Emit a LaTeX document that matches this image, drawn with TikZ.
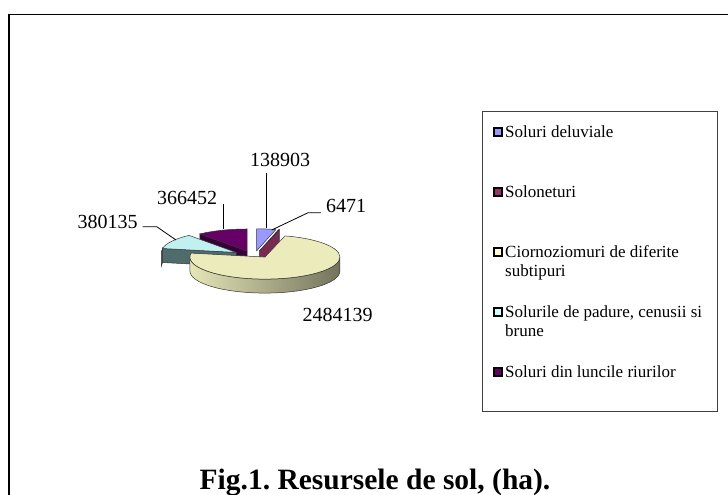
\documentclass[tikz,border=0pt]{standalone}
\usepackage{fontspec}
\setmainfont{Liberation Serif}
\usepackage{tikz}
\tikzset{>=latex}
\frenchspacing
\definecolor{myblue}{HTML}{9999FF}
\definecolor{myred}{HTML}{993366}
\definecolor{mycream}{HTML}{FFFFCC}
\definecolor{mycyan}{HTML}{CCFFFF}
\definecolor{mypurple}{HTML}{660066}
\definecolor{myslate}{HTML}{4F6B6B}
\colorlet{mydarkred}{myred!80!black}
\colorlet{mydarkpurple}{mypurple!55!black}
\colorlet{mycreamtop}{mycream!92!black}
\colorlet{mycyantop}{mycyan!94!black}
\tikzstyle{pieedge}=[draw=black!80,line width=0.5]
\tikzstyle{leader}=[line width=0.8]
\tikzstyle{legmark}=[draw=black,line width=1.5]
\tikzstyle{legtext}=[anchor=base west,inner sep=0,font=\fontsize{17}{19.5}\selectfont]
\tikzstyle{numlabel}=[anchor=base,inner sep=0,font=\fontsize{20}{24}\selectfont]
\def\topface#1#2#3#4{\filldraw[pieedge,fill=#4] (#1) -- ++({\rx*cos(#2)},{\ry*sin(#2)})
  arc[start angle=#2,end angle=#3,x radius=\rx,y radius=\ry] -- cycle}
\def\cutface#1#2#3{\filldraw[pieedge,fill=#3] (#1) -- ++({\rx*cos(#2)},{\ry*sin(#2)}) -- ++(0,-\pieh)
  -- ++({-\rx*cos(#2)},{-\ry*sin(#2)}) -- cycle}
\def\sidewall#1#2#3#4{\draw[pieedge,#4] (#1) ++({\rx*cos(#2)},{\ry*sin(#2)})
  arc[start angle=#2,end angle=#3,x radius=\rx,y radius=\ry] -- ++(0,-\pieh)
  arc[start angle=#3,end angle=#2,x radius=\rx,y radius=\ry] -- cycle}
\def\legitem#1#2#3#4{\node[legtext] (#1) at #2 {#4};
  \filldraw[fill=#3,legmark] ([xshift=-11,yshift=1.5]#1.base west) rectangle ++(8,8)}

\begin{document}
\begin{tikzpicture}[x=1pt,y=1pt]
                \useasboundingbox (0,0) rectangle (728,495);
                \def\rx{75}
                \def\ry{22}
                \def\pieh{14}
                \def\ex{20.6}
                \def\ey{3.4}
                % frame
                \draw[line width=1.6] (9,-2) -- (9,480.5) -- (730,480.5);
                % exploded slices
                \coordinate (O) at (254,240.8);
                \path (O) ++({\ex*cos(82.6)},{\ey*sin(82.6)}) coordinate (cB);
                \path (O) ++({\ex*cos(74.85)},{\ey*sin(74.85)}) coordinate (cM);
                \path (O) ++({\ex*cos(-57.95)},{\ey*sin(-57.95)}) coordinate (cY);
                \path (O) ++({\ex*cos(149.35)},{\ey*sin(149.35)}) coordinate (cC);
                \path (O) ++({\ex*cos(109.54)},{\ey*sin(109.54)}) coordinate (cP);
                \cutface{cP}{129.08}{mydarkpurple};
                \topface{cP}{90}{129.08}{mypurple};
                \cutface{cC}{169.61}{myslate};
                \sidewall{cC}{169.61}{180}{fill=myslate};
                \topface{cC}{129.08}{169.61}{mycyantop};
                \topface{cB}{75.19}{90}{myblue};
                \cutface{cM}{74.50}{mydarkred};
                \topface{cM}{74.50}{75.19}{myred};
                \sidewall{cY}{180}{360}{left color=mycream!90!black,right color=mycream!45!black};
                \topface{cY}{169.61}{434.50}{mycreamtop};
                % values
                \coordinate (t1) at (266.7,267);
                \coordinate (t2) at (271.7,265);
                \coordinate (t3) at (223.5,265.5);
                \coordinate (t4) at (176,255);
                \node[numlabel] (l138903) at (280,328) {138903};
                \node[numlabel] (l6471) at (346,282) {6471};
                \node[numlabel] (l366452) at (187,290) {366452};
                \node[numlabel] (l380135) at (107.5,266.7) {380135};
                \node[numlabel] (l2484139) at (337.5,173.3) {2484139};
                \draw[leader] (t1 |- l138903.base) ++(0,-5.7) -- (t1);
                \draw[leader] (l6471.base west) ++(-5,0.3) -- ++(-12.7,0) -- (t2);
                \draw[leader] (t3 |- l366452.base) ++(0,1) -- (t3);
                \draw[leader] (l380135.base east) ++(5,1.6) -- ++(14,0) -- (t4);
                % legend
                \draw[line width=0.8,black!75] (482,84) rectangle (717,384);
                \legitem{leg1}{(505,357.5)}{myblue}{Soluri deluviale};
                \legitem{leg2}{(505,297.5)}{myred}{Soloneturi};
                \legitem{leg3}{(505,237.5)}{mycream}{\begin{tabular}[t]{@{}l@{}}Ciornoziomuri de diferite\\subtipuri\end{tabular}};
                \legitem{leg4}{(505,177.5)}{mycyan}{\begin{tabular}[t]{@{}l@{}}Solurile de padure, cenusii si\\brune\end{tabular}};
                \legitem{leg5}{(505,117.5)}{mypurple}{Soluri din luncile riurilor};
                \node[anchor=base,inner sep=0,font=\bfseries\fontsize{29.5}{32}\selectfont] (title) at (375,5) {Fig.1. Resursele de sol, (ha).};
              \end{tikzpicture}
\end{document}
